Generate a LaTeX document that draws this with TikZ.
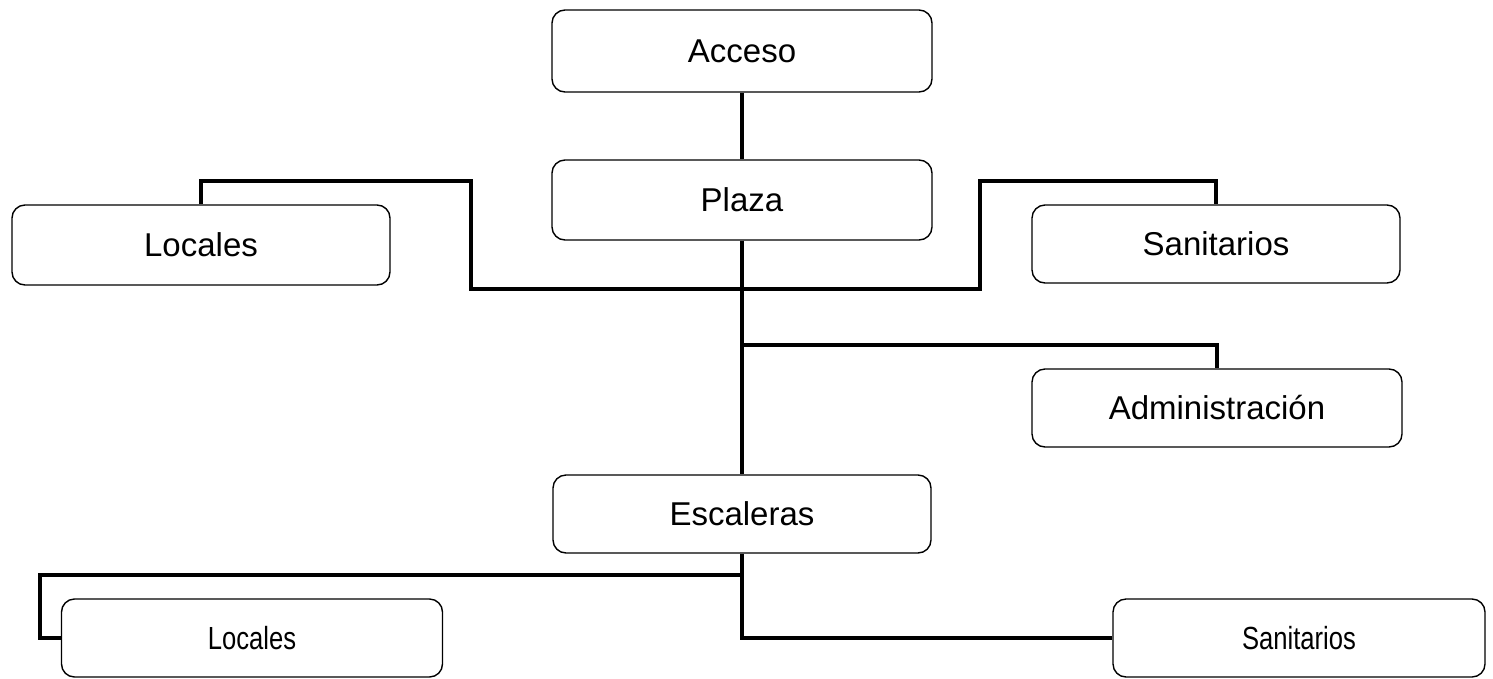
\documentclass[tikz,border=0pt]{standalone}
\usepackage{fontspec}
\setmainfont{Liberation Sans}
\newfontfamily\narrowfont[FakeStretch=0.8]{Liberation Sans}
\begin{document}
\begin{tikzpicture}[x=1pt,y=-1pt,
  box/.style={draw=black,line width=1.4pt,rounded corners=13pt,inner sep=0pt,
    font=\fontsize{33}{40}\selectfont},
  smallbox/.style={box,font=\narrowfont\fontsize{32}{38}\selectfont},
  conn/.style={draw=black,line width=4.5pt}]
\useasboundingbox (0,0) rectangle (1493,678);
\node[box,minimum width=380pt,minimum height=82pt] (acc) at (742,51) {Acceso};
\node[box,minimum width=380pt,minimum height=80pt] (plaza) at (742,200) {Plaza};
\node[box,minimum width=378pt,minimum height=80pt] (loc1) at (201,245) {Locales};
\node[box,minimum width=368pt,minimum height=78pt] (san1) at (1216,244) {Sanitarios};
\node[box,minimum width=370pt,minimum height=78pt] (adm) at (1217,408) {Administración};
\node[box,minimum width=378pt,minimum height=78pt] (esc) at (742,514) {Escaleras};
\node[smallbox,minimum width=381pt,minimum height=78pt] (loc2) at (252,638) {Locales};
\node[smallbox,minimum width=372pt,minimum height=78pt] (san2) at (1299,638) {Sanitarios};
\coordinate (tl) at (471,181);
\coordinate (br) at (980,289);
\coordinate (tr) at (1216,181);
\coordinate (ja) at (742,345);
\coordinate (jb) at (742,575);
\coordinate (lc) at (40,638);
\draw[conn] (acc.south) -- (plaza.north);
\draw[conn] (plaza.south) -- (esc.north);
\draw[conn] (loc1.north) |- (tl) |- (br) |- (tr) -- (san1.north);
\draw[conn] (ja) -| (adm.north);
\draw[conn] (jb) -| (lc) -- (loc2.west);
\draw[conn] (esc.south) |- (san2.west);
\end{tikzpicture}
\end{document}
